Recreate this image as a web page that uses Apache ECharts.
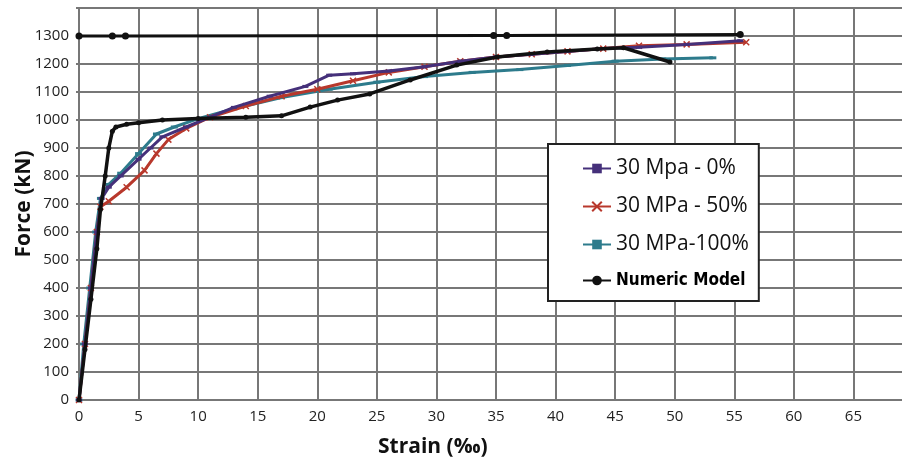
<!DOCTYPE html>
<html><head><meta charset="utf-8">
<script src="https://cdn.jsdelivr.net/npm/echarts@6/dist/echarts.min.js"></script>
<style>html,body{margin:0;padding:0;background:#fff}#c{width:902px;height:466px}</style>
</head><body><div id="c"></div>
<script>
// ---- data (strain ‰, force kN) ----
const xTicks = [0,5,10,15,20,25,30,35,40,45,50,55,60,65];
const yTicks = [0,100,200,300,400,500,600,700,800,900,1000,1100,1200,1300];
const seriesNames = ['30 Mpa - 0%','30 MPa - 50%','30 MPa-100%','Numeric Model'];
const mpa0 = [[0,0],[0.5,200],[1,400],[1.5,600],[1.9,720],[2.5,760],[3.5,800],[5,860],[6,900],[7,940],[9,975],[11,1010],[13,1045],[16,1085],[19,1120],[21,1160],[23,1165],[26,1175],[29,1190],[32,1210],[35,1225],[38,1235],[41,1245],[44,1255],[47,1260],[51,1270],[55.5,1283]];
const mpa50 = [[0,0],[0.5,200],[1,400],[1.5,600],[1.8,690],[2.5,710],[4,760],[5.5,820],[6.5,880],[7.5,930],[9,970],[11,1010],[14,1050],[17,1085],[20,1110],[23,1140],[26,1170],[29,1190],[32,1210],[35,1225],[38,1235],[41,1245],[44,1255],[47,1265],[51,1270],[56,1278]];
const mpa100 = [[0,0],[0.4,200],[0.9,400],[1.4,600],[1.8,720],[2.5,770],[3.5,810],[5,880],[6.5,950],[8,975],[10,1005],[13,1040],[17,1080],[21,1110],[25,1135],[29,1155],[33,1170],[37,1180],[41,1195],[45,1210],[49,1218],[53.2,1222]];
const numeric = [[0,0],[0.5,180],[1,360],[1.5,540],[1.8,680],[2.2,800],[2.5,900],[2.8,960],[3.1,975],[4,985],[5,990],[7,1000],[10,1005],[14,1010],[17,1015],[19.4,1046],[21.7,1071],[24.4,1093],[27.8,1143],[31.7,1196],[35.1,1225],[39.3,1243],[43.5,1254],[45.7,1258],[49.6,1207]];
const limitLine = [[0,1300],[2.8,1300],[3.9,1300],[34.8,1302],[35.9,1302],[55.5,1305]];

const chart = echarts.init(document.getElementById('c'));
const font = '"Open Sans", "DejaVu Sans", sans-serif';
chart.setOption({
  animation:false,
  backgroundColor:'#fff',
  grid:{left:79, top:8, width:834, height:392, containLabel:false, outerBoundsMode:'none'},
  xAxis:{type:'value', min:0, max:70, interval:5,
    axisLine:{lineStyle:{color:'#777', width:2}},
    axisTick:{show:false},
    axisLabel:{color:'#222', fontSize:15, fontFamily:font, margin:9,
      formatter:v=> xTicks.includes(v) ? String(v) : ''},
    splitLine:{lineStyle:{color:'#777', width:2}}},
  yAxis:{type:'value', min:0, max:1400, interval:100,
    name:'Force (kN)', nameLocation:'middle', nameGap:44, nameRotate:90, nameMoveOverlap:false,
    nameTextStyle:{fontSize:21, fontWeight:'bold', color:'#111', fontFamily:font},
    axisLine:{show:true, lineStyle:{color:'#777', width:2}},
    axisTick:{show:true, length:3, lineStyle:{color:'#777', width:2}},
    axisLabel:{color:'#222', fontSize:15, fontFamily:font, margin:10,
      formatter:v=> yTicks.includes(v) ? String(v) : ''},
    splitLine:{lineStyle:{color:'#777', width:2}}},
  legend:{orient:'vertical', left:548, top:144,
    padding:[14,10,12,34], itemGap:17, itemWidth:28, itemHeight:12,
    backgroundColor:'#fff', borderColor:'#222', borderWidth:2,
    textStyle:{fontSize:21, color:'#111', fontFamily:font},
    data:[seriesNames[0], seriesNames[1], seriesNames[2],
      {name:seriesNames[3], textStyle:{fontSize:17, fontWeight:'bold', fontFamily:'"Liberation Sans Narrow", "DejaVu Sans Condensed", sans-serif', color:'#000', padding:[6,0,0,0]}}]},
  graphic:[{type:'text', left:378, top:437,
    style:{text:'Strain (‰)', font:'bold 21px "Open Sans", sans-serif', fill:'#111'}}],
  series:[
    {name:seriesNames[0], type:'line', data:mpa0, color:'#45307a',
      lineStyle:{width:3}, symbol:'rect', symbolSize:[6,3], showSymbol:true, z:3},
    {name:seriesNames[1], type:'line', data:mpa50, color:'#b8382c',
      lineStyle:{width:3}, symbol:'path://M0 0L1 1M1 0L0 1', symbolSize:6,
      itemStyle:{borderColor:'#b8382c', borderWidth:1.5}, showSymbol:true, z:2},
    {name:seriesNames[2], type:'line', data:mpa100, color:'#2d7b8c',
      lineStyle:{width:3}, symbol:'rect', symbolSize:[7,3], showSymbol:true, z:1},
    {name:seriesNames[3], type:'line', data:numeric, color:'#111',
      lineStyle:{width:3.5}, symbol:'circle', symbolSize:5, showSymbol:true, z:4},
    {name:'limit', type:'line', data:limitLine, color:'#111',
      lineStyle:{width:3}, symbol:'circle', symbolSize:7, showSymbol:true, z:4}
  ]
});
</script></body></html>
